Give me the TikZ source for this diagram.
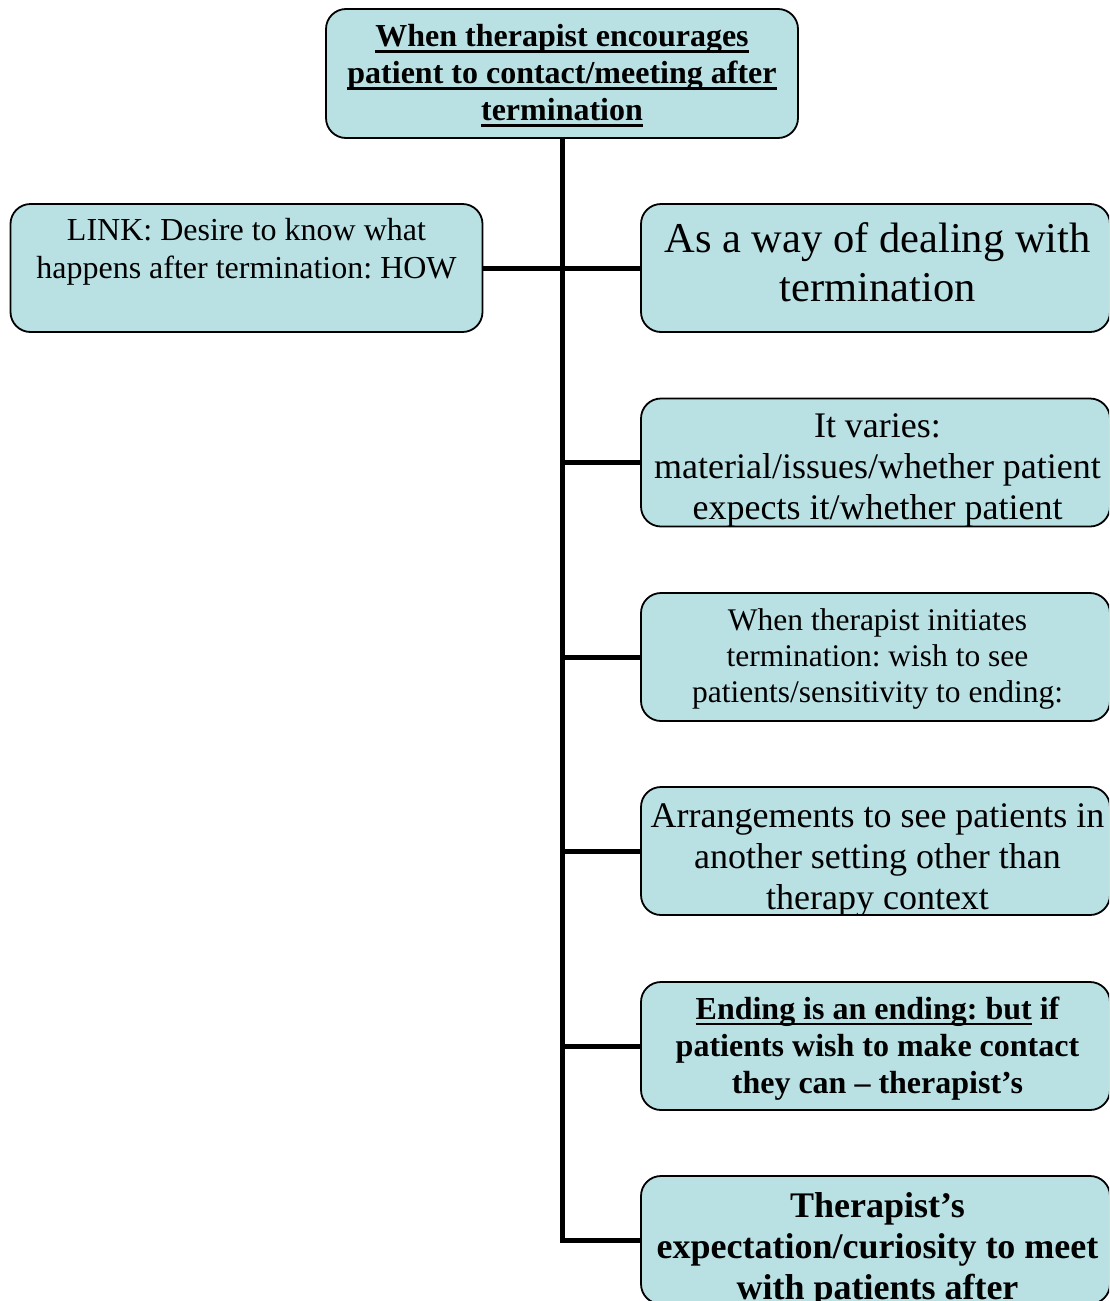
\documentclass[tikz,border=0pt]{standalone}
\usepackage{fontspec}
\setmainfont{Liberation Serif}
\frenchspacing
\definecolor{boxfill}{RGB}{185,224,227}
\newcommand{\myul}[1]{\setbox0\hbox{#1}\rlap{\rule[-6pt]{\wd0}{2.5pt}}\box0\relax}
\begin{document}
\begin{tikzpicture}[x=1pt,y=-1pt,
  box/.style={draw=black, line width=1.8pt, fill=boxfill, rounded corners=20pt,
              inner sep=0pt, minimum height=128pt, minimum width=472pt},
  rbox/.style={box, minimum width=469pt},
  txt/.style={align=center, inner sep=0pt, text=black},
  rtxt/.style={txt, xshift=2pt},
  conn/.style={draw=black, line width=5pt, line join=miter}]
\useasboundingbox (0,0) rectangle (1109,1301);
\fill[white] (0,0) rectangle (1109,1301);
\clip (0,0) rectangle (1109,1301);

\node[box, minimum height=129pt, path picture={\node[txt, yshift=-2pt, font=\fontsize{32}{37}\selectfont\bfseries] (t0) at (path picture bounding box.center)
   {\myul{When therapist encourages}\\ \myul{patient to contact/meeting after}\\ \myul{termination}};}] (top) at (562,73.5) {};

\node[box, path picture={\node[txt, yshift=16.5pt, font=\fontsize{32}{38}\selectfont] (tl) at (path picture bounding box.center)
   {LINK: Desire to know what\\ happens after termination: HOW};}] (link) at (246.5,268) {};

\node[rbox, path picture={\node[rtxt, yshift=6pt, font=\fontsize{42.5}{49}\selectfont] (t1) at (path picture bounding box.center)
   {As a way of dealing with\\ termination};}] (b1) at (875.5,268) {};

\node[rbox, path picture={\node[rtxt, yshift=-8pt, font=\fontsize{36}{41}\selectfont] (t2) at (path picture bounding box.center)
   {It varies:\\ material/issues/whether patient\\ expects it/whether patient};}] (b2) at (875.5,462.5) {};

\node[rbox, path picture={\node[rtxt, yshift=-1.5pt, font=\fontsize{31.5}{36}\selectfont] (t3) at (path picture bounding box.center)
   {When therapist initiates\\ termination: wish to see\\ patients/sensitivity to ending:};}] (b3) at (875.5,657) {};

\node[rbox, path picture={\node[rtxt, yshift=-9.5pt, font=\fontsize{36}{41}\selectfont] (t4) at (path picture bounding box.center)
   {Arrangements to see patients in\\ another setting other than\\ therapy context};}] (b4) at (875.5,851) {};

\node[rbox, path picture={\node[rtxt, yshift=-2.5pt, font=\fontsize{32}{37}\selectfont\bfseries] (t5) at (path picture bounding box.center)
   {\myul{Ending is an ending: but} if\\ patients wish to make contact\\ they can -- therapist's};}] (b5) at (875.5,1046) {};

\node[rbox, path picture={\node[rtxt, yshift=-9.5pt, font=\fontsize{36}{41}\selectfont\bfseries] (t6) at (path picture bounding box.center)
   {Therapist's\\ expectation/curiosity to meet\\ with patients after};}] (b6) at (875.5,1240) {};

\coordinate (j6) at (top.south |- b6.west);
\draw[conn] (top.south) -- (j6) -- (b6.west);
\draw[conn] (link.east) -- (b1.west);
\draw[conn] (top.south |- b2.west) -- (b2.west);
\draw[conn] (top.south |- b3.west) -- (b3.west);
\draw[conn] (top.south |- b4.west) -- (b4.west);
\draw[conn] (top.south |- b5.west) -- (b5.west);
\end{tikzpicture}
\end{document}
